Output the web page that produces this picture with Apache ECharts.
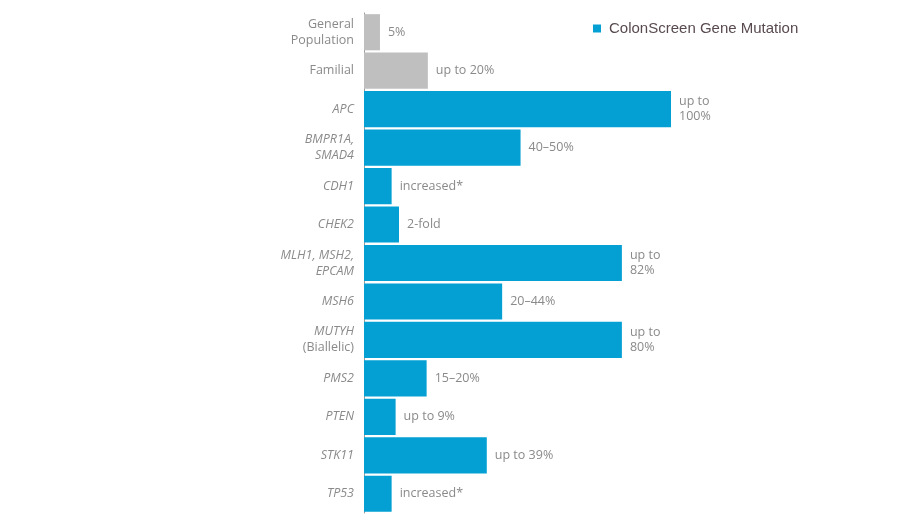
<!DOCTYPE html>
<html>
<head>
<meta charset="UTF-8">
<title>ColonScreen</title>
<style>
  * { margin: 0; padding: 0; }
  html, body { background: #fff; }
  #main { width: 900px; height: 522px; }
</style>
<script src="https://cdn.jsdelivr.net/npm/echarts@6/dist/echarts.min.js"></script>
</head>
<body>
<div id="main"></div>
<script>
// rows, top to bottom
var categories = ['General\nPopulation', 'Familial', 'APC', 'BMPR1A,\nSMAD4', 'CDH1', 'CHEK2',
  'MLH1, MSH2,\nEPCAM', 'MSH6', 'MUTYH\n(Biallelic)', 'PMS2', 'PTEN', 'STK11', 'TP53'];
var italicRows = [false, false, true, true, true, true, true, true, true, true, true, true, true];
var values = [5.2, 20.8, 100, 51, 9, 11.4, 84, 45, 84, 20.4, 10.3, 40, 9];
var valueLabels = ['5%', 'up to 20%', 'up to\n100%', '40–50%', 'increased*', '2-fold',
  'up to\n82%', '20–44%', 'up to\n80%', '15–20%', 'up to 9%', 'up to 39%', 'increased*'];
var referenceRows = 2; // first rows drawn grey

var blue = '#04a0d3';
var grey = '#bfbfbf';
var textGrey = '#8a8a8a';

var myChart = echarts.init(document.getElementById('main'));

var seriesData = values.map(function (v, i) {
  return {
    value: v,
    itemStyle: { color: i < referenceRows ? grey : blue },
    label: { formatter: valueLabels[i] }
  };
});

var option = {
  animation: false,
  textStyle: { fontFamily: 'Open Sans' },
  grid: { left: 364, right: 229, top: 13, bottom: 9 },
  legend: {
    left: 588,
    top: 16,
    icon: 'rect',
    itemWidth: 8,
    itemHeight: 8,
    itemGap: 10,
    textStyle: { fontFamily: 'Liberation Sans', fontSize: 15, color: '#584a50', padding: [0, 0, 0, 3] },
    data: [{ name: 'ColonScreen Gene Mutation', itemStyle: { color: blue } }]
  },
  xAxis: {
    type: 'value',
    min: 0,
    max: 100,
    show: false
  },
  yAxis: {
    type: 'category',
    inverse: true,
    data: categories,
    axisLine: { show: true, lineStyle: { color: '#9a9a9a', width: 1 } },
    axisTick: { show: false },
    axisLabel: {
      margin: 10,
      formatter: function (v, i) {
        var lines = v.split('\n');
        if (v.indexOf('(Biallelic)') >= 0) {
          return '{i|' + lines[0] + '}\n{n|' + lines[1] + '}';
        }
        var key = italicRows[i] ? 'i' : 'n';
        return lines.map(function (l) { return '{' + key + '|' + l + '}'; }).join('\n');
      },
      rich: {
        i: { fontFamily: 'Open Sans', fontStyle: 'italic', fontSize: 12.5, color: textGrey, lineHeight: 16 },
        n: { fontFamily: 'Open Sans', fontSize: 12.5, color: textGrey, lineHeight: 16 }
      }
    }
  },
  series: [{
    name: 'ColonScreen Gene Mutation',
    type: 'bar',
    barCategoryGap: '6%',
    itemStyle: { color: blue },
    label: {
      show: true,
      position: 'right',
      distance: 8,
      fontFamily: 'Open Sans',
      fontSize: 12.5,
      lineHeight: 15,
      color: textGrey,
      align: 'left'
    },
    data: seriesData
  }]
};

myChart.setOption(option);
</script>
</body>
</html>
